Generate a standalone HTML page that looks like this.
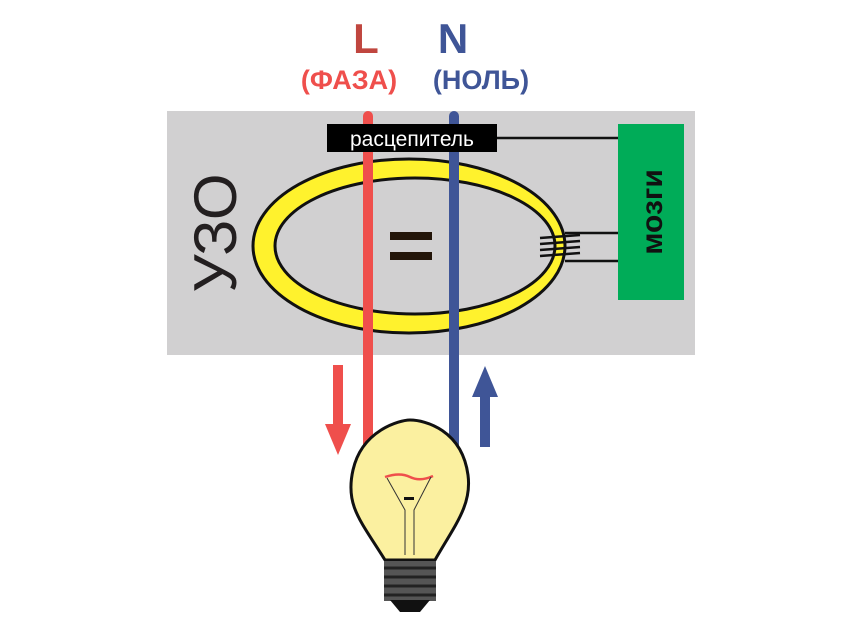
<!DOCTYPE html>
<html><head><meta charset="utf-8"><style>
html,body{margin:0;padding:0;background:#fff;width:864px;height:622px;overflow:hidden}
</style></head><body>
<svg width="864" height="622" viewBox="0 0 864 622" xmlns="http://www.w3.org/2000/svg">
<text x="366" y="53" text-anchor="middle" font-family="Liberation Sans, sans-serif" font-weight="bold" font-size="42" fill="#c0463f">L</text>
<text x="453" y="53" text-anchor="middle" font-family="Liberation Sans, sans-serif" font-weight="bold" font-size="42" fill="#3f5597">N</text>
<text x="349" y="89" text-anchor="middle" font-family="Liberation Sans, sans-serif" font-weight="bold" font-size="27" fill="#ef4f4c">(ФАЗА)</text>
<text x="481" y="89" text-anchor="middle" font-family="Liberation Sans, sans-serif" font-weight="bold" font-size="27" fill="#3f5597">(НОЛЬ)</text>
<rect x="167" y="111" width="528" height="244" fill="#d1d0d1"/>
<text transform="translate(236,233) rotate(-90)" text-anchor="middle" font-family="Liberation Sans, sans-serif" font-size="60" fill="#231f20">УЗО</text>
<ellipse cx="409" cy="246" rx="156" ry="87" fill="#fff22d" stroke="#111" stroke-width="3"/>
<ellipse cx="415" cy="246" rx="140" ry="68" fill="#d1d0d1" stroke="#111" stroke-width="3"/>
<rect x="390" y="232" width="42" height="8" fill="#231509"/>
<rect x="390" y="252" width="42" height="8" fill="#231509"/>
<line x1="497" y1="138" x2="618" y2="138" stroke="#111" stroke-width="2.5"/>
<line x1="565" y1="233" x2="618" y2="233" stroke="#111" stroke-width="2.5"/>
<line x1="565" y1="261" x2="618" y2="261" stroke="#111" stroke-width="2.5"/>
<g stroke="#111" stroke-width="2.5">
<line x1="540" y1="238" x2="580" y2="235"/><line x1="540" y1="244" x2="580" y2="241"/>
<line x1="540" y1="250" x2="580" y2="247"/><line x1="540" y1="256" x2="580" y2="253"/>
</g>
<rect x="618" y="124" width="66" height="176" fill="#00ac58"/>
<text transform="translate(662,212) rotate(-90)" text-anchor="middle" font-family="Liberation Sans, sans-serif" font-weight="bold" font-size="30" fill="#111">мозги</text>
<rect x="363" y="111" width="10" height="340" rx="5" fill="#ef4f4c"/>
<rect x="449" y="111" width="10" height="340" rx="5" fill="#3f5597"/>
<rect x="327" y="124" width="170" height="28" fill="#000"/>
<text x="412" y="146" text-anchor="middle" font-family="Liberation Sans, sans-serif" font-size="21" fill="#fff">расцепитель</text>
<rect x="333" y="365" width="10" height="60" fill="#ef4f4c"/>
<polygon points="325,424 351,424 338,455" fill="#ef4f4c"/>
<rect x="480" y="395" width="10" height="52" fill="#3f5597"/>
<polygon points="472,397 498,397 485,366" fill="#3f5597"/>
<path d="M385,560 C360,520 345,505 353,470 C362,430 400,420 410,420 C425,420 462,430 468,475 C472,505 455,525 435,560 Z" fill="#fbf0a0" stroke="#111" stroke-width="3"/>
<path d="M385,477 Q400,472 410,477 T433,476" stroke="#ef4f4c" stroke-width="2.5" fill="none"/>
<path d="M387,478 L405,510 L405,555 M431,477 L414,510 L414,555" stroke="#333" stroke-width="1" fill="none"/>
<rect x="404" y="497" width="10" height="3" fill="#111"/>
<rect x="384" y="561" width="52" height="40" fill="#555"/>
<g stroke="#222" stroke-width="3"><line x1="384" y1="568" x2="436" y2="568"/><line x1="384" y1="577" x2="436" y2="577"/><line x1="384" y1="586" x2="436" y2="586"/><line x1="384" y1="595" x2="436" y2="595"/></g>
<path d="M390,600 L430,600 L420,612 L400,612 Z" fill="#111"/>
</svg>
</body></html>
